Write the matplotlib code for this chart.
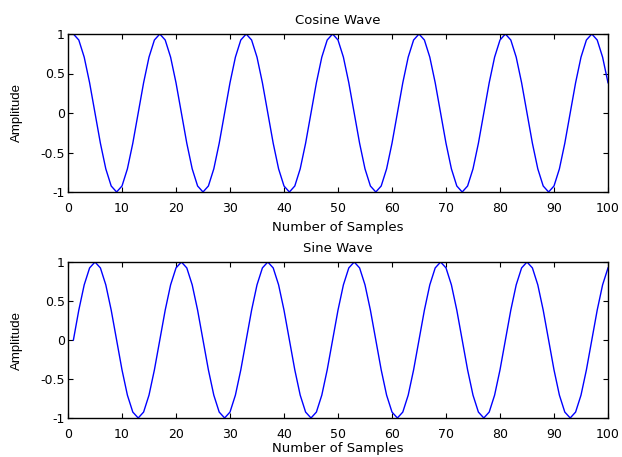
import matplotlib
matplotlib.use("Agg")
import matplotlib.pyplot as plt

plt.rcParams['font.family'] = ['DejaVu Sans']

samples = list(range(1, 101))
cosine_values = [
    1.0, 0.924, 0.707, 0.383, 0.0, -0.383, -0.707, -0.924, -1.0, -0.924, -0.707, -0.383, 0.0, 0.383, 0.707, 0.924,
    1.0, 0.924, 0.707, 0.383, 0.0, -0.383, -0.707, -0.924, -1.0, -0.924, -0.707, -0.383, 0.0, 0.383, 0.707, 0.924,
    1.0, 0.924, 0.707, 0.383, 0.0, -0.383, -0.707, -0.924, -1.0, -0.924, -0.707, -0.383, 0.0, 0.383, 0.707, 0.924,
    1.0, 0.924, 0.707, 0.383, 0.0, -0.383, -0.707, -0.924, -1.0, -0.924, -0.707, -0.383, 0.0, 0.383, 0.707, 0.924,
    1.0, 0.924, 0.707, 0.383, 0.0, -0.383, -0.707, -0.924, -1.0, -0.924, -0.707, -0.383, 0.0, 0.383, 0.707, 0.924,
    1.0, 0.924, 0.707, 0.383, 0.0, -0.383, -0.707, -0.924, -1.0, -0.924, -0.707, -0.383, 0.0, 0.383, 0.707, 0.924,
    1.0, 0.924, 0.707, 0.383,
]
sine_values = [
    0.0, 0.383, 0.707, 0.924, 1.0, 0.924, 0.707, 0.383, 0.0, -0.383, -0.707, -0.924, -1.0, -0.924, -0.707, -0.383,
    0.0, 0.383, 0.707, 0.924, 1.0, 0.924, 0.707, 0.383, 0.0, -0.383, -0.707, -0.924, -1.0, -0.924, -0.707, -0.383,
    0.0, 0.383, 0.707, 0.924, 1.0, 0.924, 0.707, 0.383, 0.0, -0.383, -0.707, -0.924, -1.0, -0.924, -0.707, -0.383,
    0.0, 0.383, 0.707, 0.924, 1.0, 0.924, 0.707, 0.383, 0.0, -0.383, -0.707, -0.924, -1.0, -0.924, -0.707, -0.383,
    0.0, 0.383, 0.707, 0.924, 1.0, 0.924, 0.707, 0.383, 0.0, -0.383, -0.707, -0.924, -1.0, -0.924, -0.707, -0.383,
    0.0, 0.383, 0.707, 0.924, 1.0, 0.924, 0.707, 0.383, 0.0, -0.383, -0.707, -0.924, -1.0, -0.924, -0.707, -0.383,
    0.0, 0.383, 0.707, 0.924,
]
x_ticks = [0, 10, 20, 30, 40, 50, 60, 70, 80, 90, 100]
y_ticks = [-1, -0.5, 0, 0.5, 1]
y_ticklabels = ['-1', '-0.5', '0', '0.5', '1']

W, H = 622, 457
fig = plt.figure(figsize=(W / 100, H / 100), dpi=100)

def make_axes(left, top, right, bottom):
    return fig.add_axes([left / W, 1 - bottom / H, (right - left) / W, (bottom - top) / H])

ax1 = make_axes(68, 34, 608, 192)
ax2 = make_axes(68, 262, 608, 418)

for ax, vals, title, hpx, xlab_off in [(ax1, cosine_values, 'Cosine Wave', 158, 29.5),
                                       (ax2, sine_values, 'Sine Wave', 156, 24.0)]:
    ax.plot(samples, vals, color=(0, 0, 1), linewidth=1.0)
    ax.set_xlim(0, 100)
    ax.set_ylim(-1, 1)
    ax.set_xticks(x_ticks)
    ax.set_yticks(y_ticks)
    ax.set_yticklabels(y_ticklabels)
    ax.tick_params(direction='in', top=True, right=True, length=3.6, width=0.8,
                   labelsize=9)
    ax.tick_params(axis='x', pad=7.5)
    ax.tick_params(axis='y', pad=2.2)
    for s in ax.spines.values():
        s.set_linewidth(1.0)
    ax.set_title(title, fontsize=9.5, pad=7.2)
    ax.set_xlabel('Number of Samples', fontsize=9.5)
    ax.xaxis.set_label_coords(0.5, -xlab_off / hpx)
    ax.set_ylabel('Amplitude', fontsize=9.5, family=['Liberation Sans', 'DejaVu Sans'])
    ax.yaxis.set_label_coords(-45 / 540, 0.5)

fig.savefig('out.png', dpi=100)
